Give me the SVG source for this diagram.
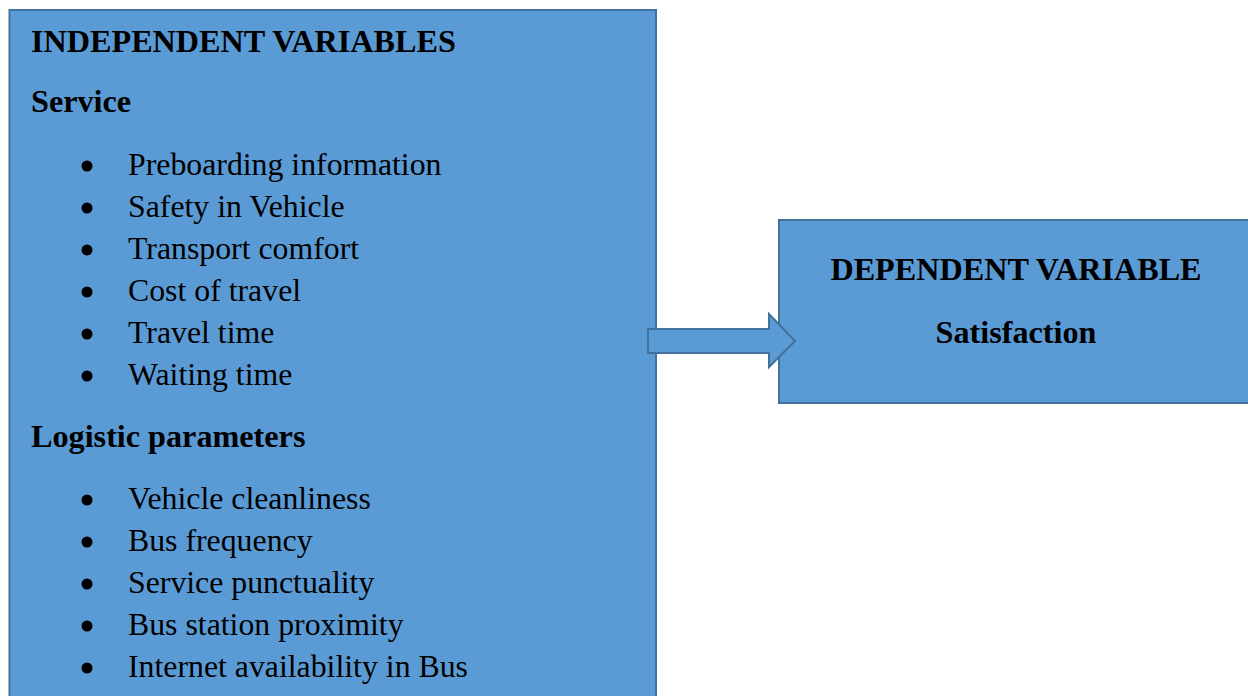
<svg xmlns="http://www.w3.org/2000/svg" width="1248" height="696" viewBox="0 0 1248 696">
<style>
.box{fill:#5B9BD5;stroke:#41719C;stroke-width:2}
.t{font-family:"Liberation Serif","Times New Roman",serif;font-size:31.8px;fill:#000}
.b{font-weight:bold;font-size:32.2px}
.dot{fill:#000}
</style>
<rect width="1248" height="696" fill="#fff"/>
<g id="independent">
<rect class="box" x="9.5" y="10" width="646.5" height="700"/>
<text class="t b" x="31" y="52">INDEPENDENT VARIABLES</text>
<text class="t b" x="31" y="112">Service</text>
<g class="dot">
<circle cx="87" cy="166" r="5.5"/><circle cx="87" cy="208" r="5.5"/><circle cx="87" cy="250" r="5.5"/>
<circle cx="87" cy="292" r="5.5"/><circle cx="87" cy="334" r="5.5"/><circle cx="87" cy="376" r="5.5"/>
<circle cx="87" cy="500" r="5.5"/><circle cx="87" cy="542" r="5.5"/><circle cx="87" cy="584" r="5.5"/>
<circle cx="87" cy="626" r="5.5"/><circle cx="87" cy="668" r="5.5"/>
</g>
<text class="t" x="128" y="175">Preboarding information</text>
<text class="t" x="128" y="217">Safety in Vehicle</text>
<text class="t" x="128" y="259">Transport comfort</text>
<text class="t" x="128" y="301">Cost of travel</text>
<text class="t" x="128" y="343">Travel time</text>
<text class="t" x="128" y="385">Waiting time</text>
<text class="t b" x="31" y="447">Logistic parameters</text>
<text class="t" x="128" y="509">Vehicle cleanliness</text>
<text class="t" x="128" y="551">Bus frequency</text>
<text class="t" x="128" y="593">Service punctuality</text>
<text class="t" x="128" y="635">Bus station proximity</text>
<text class="t" x="128" y="677">Internet availability in Bus</text>
</g>
<g id="dependent">
<rect class="box" x="779" y="220" width="480" height="183"/>
<text class="t b" x="1016" y="280" text-anchor="middle">DEPENDENT VARIABLE</text>
<text class="t b" x="1016" y="343" text-anchor="middle">Satisfaction</text>
</g>
<g id="connectors">
<path class="box" d="M648,329 H769 V314 L795,341 L769,367 V353 H648 Z"/>
</g>
</svg>
